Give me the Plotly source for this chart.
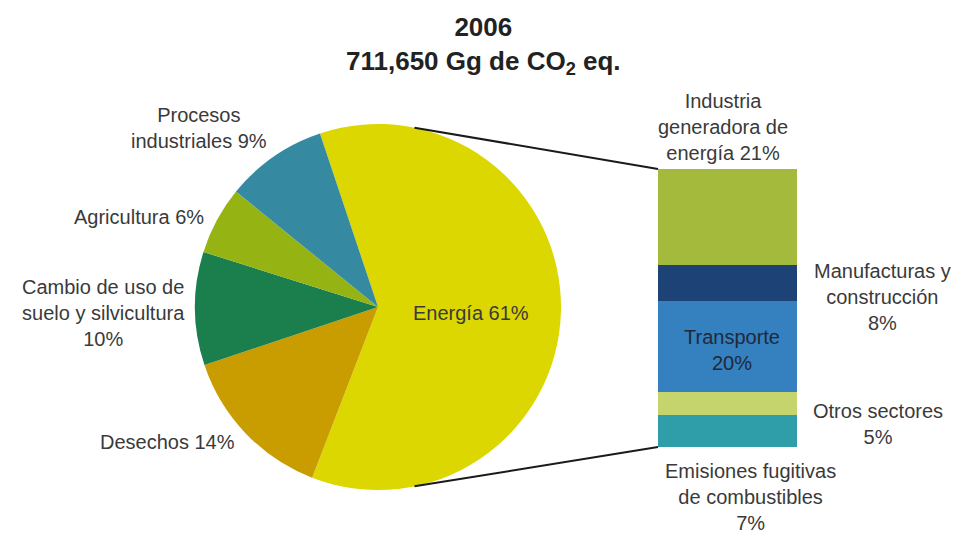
import math
import plotly.graph_objects as go

W, H = 956, 533

# ---- data ----
pie_labels = ["Energía", "Desechos", "Cambio de uso de suelo y silvicultura", "Agricultura", "Procesos industriales"]
pie_values = [61, 14, 10, 6, 9]
pie_colors = ["#dcd700", "#c99c00", "#1a7f4c", "#95b414", "#3589a0"]

bar_labels = ["Emisiones fugitivas de combustibles", "Otros sectores", "Transporte",
              "Manufacturas y construcción", "Industria generadora de energía"]
bar_values = [7, 5, 20, 8, 21]
bar_colors = ["#2f9ea9", "#c5d46c", "#3580bf", "#1c4276", "#a3ba3d"]

title_text = "<b>2006<br>711,650 Gg de CO<sub>2</sub> eq.</b>"

# ---- geometry helpers (pixels -> paper) ----
def px(x):
    return x / W

def py(y):
    return (H - y) / H

cx, cy, r = 378, 307, 183
pie_dom_x = [px(cx - r), px(cx + r)]
pie_dom_y = [py(cy + r), py(cy - r)]

bar_left, bar_right, bar_top, bar_bottom = 658, 797, 169, 447
bar_dom_x = [px(bar_left), px(bar_right)]
bar_dom_y = [py(bar_bottom), py(bar_top)]

fig = go.Figure()

fig.add_trace(go.Pie(
    labels=pie_labels, values=pie_values, sort=False, direction="clockwise",
    rotation=-18.5, marker=dict(colors=pie_colors, line=dict(width=0)),
    textinfo="none", hoverinfo="label+percent", showlegend=False,
    domain=dict(x=pie_dom_x, y=pie_dom_y),
))

for lab, val, col in zip(bar_labels, bar_values, bar_colors):
    fig.add_trace(go.Bar(
        x=[0], y=[val], name=lab, marker=dict(color=col, line=dict(width=0)),
        showlegend=False, hoverinfo="name+y",
    ))

fig.update_layout(
    width=W, height=H, margin=dict(l=0, r=0, t=0, b=0),
    paper_bgcolor="white", plot_bgcolor="white",
    barmode="stack", bargap=0,
    xaxis=dict(domain=bar_dom_x, visible=False, range=[-0.5, 0.5]),
    yaxis=dict(domain=bar_dom_y, visible=False, range=[0, sum(bar_values)]),
    font=dict(family="Liberation Sans, Arial, sans-serif", color="#3a3a3a", size=20),
)

# connector lines from pie edge to bar corners
def pie_pt(angle_deg):
    a = math.radians(angle_deg)
    return cx + r * math.sin(a), cy - r * math.cos(a)

tx, ty = pie_pt(11.5)
bx, by = pie_pt(168.5)
fig.add_shape(type="line", xref="paper", yref="paper",
              x0=px(tx), y0=py(ty), x1=bar_dom_x[0], y1=bar_dom_y[1],
              line=dict(color="#1a1a1a", width=2))
fig.add_shape(type="line", xref="paper", yref="paper",
              x0=px(bx), y0=py(by), x1=bar_dom_x[0], y1=bar_dom_y[0],
              line=dict(color="#1a1a1a", width=2))

def ann(text, x, y, size=20, color="#3a3a3a"):
    fig.add_annotation(text=text, x=px(x), y=py(y), xref="paper", yref="paper",
                       showarrow=False, xanchor="center", yanchor="middle",
                       font=dict(size=size, color=color), align="center")

ann(title_text, 483, 45, size=26, color="#222222")
ann("Procesos<br>industriales 9%", 199, 128)
ann("Agricultura 6%", 139, 217)
ann("Cambio de uso de<br>suelo y silvicultura<br>10%", 103, 313)
ann("Desechos 14%", 167, 442)
ann("Energía 61%", 471, 313)
ann("Industria<br>generadora de<br>energía 21%", 723, 127)
ann("Manufacturas y<br>construcción<br>8%", 882, 297)
ann("Transporte<br>20%", 732, 350, color="#1e2a3a")
ann("Otros sectores<br>5%", 878, 424)
ann("Emisiones fugitivas<br>de combustibles<br>7%", 750, 497)

fig.write_html("out.html", config={"displayModeBar": False},
               post_script="document.body.style.margin='0';document.body.style.overflow='hidden';")
